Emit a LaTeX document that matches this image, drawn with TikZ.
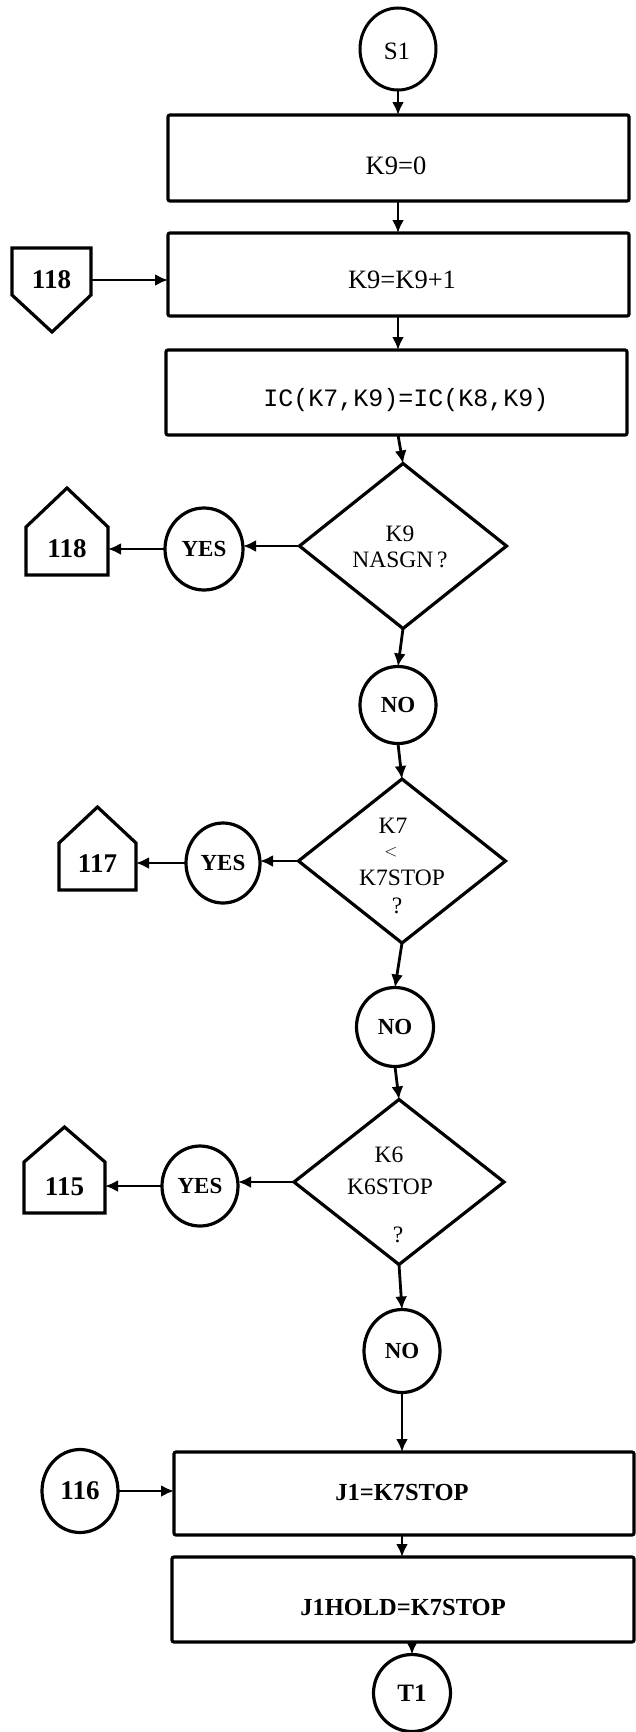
\documentclass[tikz,border=0pt]{standalone}
\usepackage{fontspec}
\setmainfont{Liberation Serif}
\setmonofont{Liberation Mono}
\usetikzlibrary{shapes.geometric,arrows.meta}
\begin{document}
\begin{tikzpicture}[x=1pt,y=-1pt,
  line width=3pt,
  every node/.style={inner sep=0pt,outer sep=0pt},
  arr/.style={line width=2.8pt,-{Latex[length=13pt,width=12pt]}},
  box/.style={draw,line width=3.2pt,rectangle,rounded corners=2pt,minimum width=461pt,minimum height=85pt},
  dia/.style={draw,line width=3.2pt,diamond,minimum width=207pt,minimum height=165pt},
  rnd/.style={draw,line width=3.2pt,ellipse,minimum width=77pt,minimum height=80pt,font=\fontsize{23}{26}\selectfont\bfseries},
  boxtxt/.style={font=\fontsize{26.5}{30}\selectfont},
  boldtxt/.style={font=\fontsize{24.5}{28}\selectfont\bfseries},
  montxt/.style={font=\fontsize{25}{28}\selectfont\ttfamily},
  diatxt/.style={font=\fontsize{23.5}{26}\selectfont,align=center},
  numtxt/.style={font=\fontsize{27}{29}\selectfont\bfseries},
  pent/.style={line width=3.2pt}
]
\fill[white] (0,0) rectangle (636,1732);
\useasboundingbox (0,0) rectangle (636,1732);

% start
\node[draw,line width=3pt,ellipse,minimum width=76pt,minimum height=82pt] (s1) at (398,49) {};
\node[font=\fontsize{25}{28}\selectfont] (s1t) at (397,51) {S1};

% boxes
\node[box,minimum height=86pt] (b1) at (398.5,158) {};
\node[boxtxt] (b1t) at (396,166) {K9=0};
\node[box,minimum height=83pt] (b2) at (398.5,274.5) {};
\node[boxtxt] (b2t) at (402,280) {K9=K9+1};
\node[box] (b3) at (396.5,392.5) {};
\node[montxt] (b3t) at (406,400) {IC(K7,K9)=IC(K8,K9)};

% off-page 118 (in)
\draw[pent] (12,248) -- (91,248) -- (91,295) -- (52,332) -- (12,295) -- cycle;
\node[numtxt,minimum width=79pt] (p1) at (51.5,280) {118};

% decision 1
\node[dia] (d1) at (403,546) {};
\node[diatxt] (d1t) at (400,547) {K9\\NASGN\,?};
\node[rnd,minimum width=78pt,minimum height=82pt] (y1) at (204,549) {YES};
\draw[pent] (26,575) -- (26,527) -- (67,488) -- (108,527) -- (108,575) -- cycle;
\node[numtxt,minimum width=82pt] (p2) at (67,549) {118};
\node[rnd,minimum width=76pt,minimum height=77pt] (n1) at (398,705) {NO};

% decision 2
\node[dia,minimum height=164pt] (d2) at (402,861) {};
\node[diatxt] (d2a) at (393,826) {K7};
\node[font=\fontsize{17}{18}\selectfont] (d2b) at (391,852) {$<$};
\node[diatxt] (d2c) at (402,878) {K7STOP};
\node[diatxt] (d2d) at (397,906) {?};
\node[rnd,minimum width=74pt,minimum height=80pt] (y2) at (223,863) {YES};
\draw[pent] (59,890) -- (59,843) -- (97.5,807) -- (136,843) -- (136,890) -- cycle;
\node[numtxt,minimum width=77pt] (p3) at (97.5,864) {117};
\node[rnd,minimum width=77pt,minimum height=79pt] (n2) at (395,1027) {NO};

% decision 3
\node[dia,minimum width=210pt] (d3) at (399,1182) {};
\node[diatxt] (d3a) at (389,1155) {K6};
\node[diatxt] (d3b) at (390,1187) {K6STOP};
\node[diatxt] (d3c) at (398,1235) {?};
\node[rnd,minimum width=76pt,minimum height=80pt] (y3) at (200,1186) {YES};
\draw[pent] (24,1213) -- (24,1162) -- (64.5,1127) -- (105,1162) -- (105,1213) -- cycle;
\node[numtxt,minimum width=81pt] (p4) at (64.5,1187) {115};
\node[rnd,minimum width=76pt,minimum height=83pt] (n3) at (402,1351) {NO};

% final boxes
\node[box,minimum width=460pt,minimum height=83pt] (b4) at (404,1493.5) {};
\node[boldtxt] (b4t) at (402,1492) {J1=K7STOP};
\node[rnd,minimum width=76pt,minimum height=83pt,font=\fontsize{27}{29}\selectfont\bfseries] (c116) at (80,1491) {116};
\node[box,minimum width=462pt] (b5) at (403,1599.5) {};
\node[boldtxt] (b5t) at (403,1607) {J1HOLD=K7STOP};
\node[rnd,minimum width=77pt,minimum height=77pt,font=\fontsize{25}{28}\selectfont\bfseries] (t1) at (412,1693) {T1};

% main flow
\draw[arr] (s1.south) -- (s1.south |- b1.north);
\draw[arr] (s1 |- b1.south) -- (s1 |- b2.north);
\draw[arr] (p1.east) -- (p1.east -| b2.west);
\draw[arr] (s1 |- b2.south) -- (s1 |- b3.north);
\draw[arr] (s1 |- b3.south) -- (d1.north);
\draw[arr] (d1.west) -- (d1.west -| y1.east);
\draw[arr] (y1.west) -- (y1.west -| p2.east);
\draw[arr] (d1.south) -- (n1.north);
\draw[arr] (n1.south) -- (d2.north);
\draw[arr] (d2.west) -- (d2.west -| y2.east);
\draw[arr] (y2.west) -- (y2.west -| p3.east);
\draw[arr] (d2.south) -- (n2.north);
\draw[arr] (n2.south) -- (d3.north);
\draw[arr] (d3.west) -- (d3.west -| y3.east);
\draw[arr] (y3.west) -- (y3.west -| p4.east);
\draw[arr] (d3.south) -- (n3.north);
\draw[arr] (n3.south) -- (n3.south |- b4.north);
\draw[arr] (c116.east) -- (c116.east -| b4.west);
\draw[arr] (n3 |- b4.south) -- (n3 |- b5.north);
\draw[arr] (b5.south -| t1) -- (t1.north);
\end{tikzpicture}
\end{document}
